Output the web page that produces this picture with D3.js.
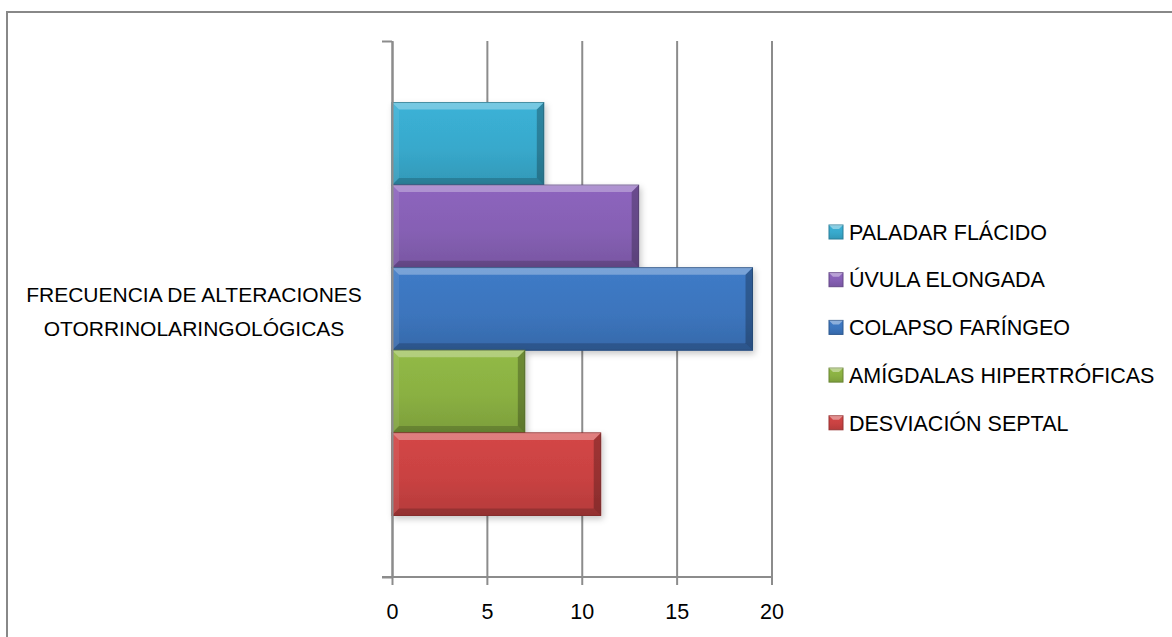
<!DOCTYPE html>
<html>
<head>
<meta charset="utf-8">
<script src="https://cdn.jsdelivr.net/npm/d3@7"></script>
<style>
  body { margin: 0; background: #fff; }
  text { font-family: "Liberation Sans", Arial, sans-serif; fill: #000; }
</style>
</head>
<body>
<script>
const w = 1172;
const h = 637;

// data (top bar first)
const seriesNames = ["PALADAR FLÁCIDO", "ÚVULA ELONGADA", "COLAPSO FARÍNGEO", "AMÍGDALAS HIPERTRÓFICAS", "DESVIACIÓN SEPTAL"];
const seriesValues = [8, 13, 19, 7, 11];
const seriesColors = ["#38a9cc", "#8660b4", "#3c75bd", "#8ab042", "#c94242"];
const categoryLines = ["FRECUENCIA DE ALTERACIONES", "OTORRINOLARINGOLÓGICAS"];
const xTicks = [0, 5, 10, 15, 20];

const plot = { left: 392, right: 771.5, top: 41, bottom: 577 };

const svg = d3.select("body").append("svg")
  .attr("width", w)
  .attr("height", h);

const defs = svg.append("defs");

// chart frame (runs off the right and bottom edges)
svg.append("rect")
  .attr("x", 7).attr("y", 12)
  .attr("width", 1250).attr("height", 700)
  .attr("fill", "#fff")
  .attr("stroke", "#888")
  .attr("stroke-width", 2);

const x = d3.scaleLinear().domain([0, 20]).range([plot.left, plot.right]);
const y = d3.scaleBand()
  .domain(seriesNames)
  .range([plot.top, plot.bottom])
  .paddingInner(0)
  .paddingOuter(0.745);

// gridlines
svg.append("g")
  .attr("transform", `translate(0, ${plot.bottom})`)
  .call(d3.axisBottom(x).tickValues(xTicks).tickSize(-(plot.bottom - plot.top)).tickFormat(""))
  .call(g => g.select(".domain").remove())
  .call(g => g.selectAll("line").attr("stroke", "#8c8c8c").attr("stroke-width", 2));

// shadow + gradients
const shadow = defs.append("filter").attr("id", "shadow")
  .attr("x", "-10%").attr("y", "-10%").attr("width", "130%").attr("height", "130%");
shadow.append("feDropShadow")
  .attr("dx", 2).attr("dy", 3).attr("stdDeviation", 3)
  .attr("flood-color", "#000").attr("flood-opacity", 0.22);

seriesColors.forEach((c, i) => {
  const base = d3.color(c);
  const g = defs.append("linearGradient").attr("id", "grad" + i)
    .attr("x1", 0).attr("y1", 0).attr("x2", 0).attr("y2", 1);
  g.append("stop").attr("offset", "0%").attr("stop-color", base.brighter(0.15));
  g.append("stop").attr("offset", "55%").attr("stop-color", base);
  g.append("stop").attr("offset", "100%").attr("stop-color", base.darker(0.3));
});

// bars with a simple bevel
const bev = 7;
const bars = svg.append("g").selectAll("g")
  .data(seriesNames.map((n, i) => ({ name: n, value: seriesValues[i], i })))
  .join("g");

bars.append("rect")
  .attr("x", x(0))
  .attr("y", d => y(d.name))
  .attr("width", d => x(d.value) - x(0))
  .attr("height", y.bandwidth())
  .attr("fill", d => `url(#grad${d.i})`)
  .attr("stroke", d => d3.color(seriesColors[d.i]).darker(0.9))
  .attr("stroke-width", 1)
  .attr("filter", "url(#shadow)");

const facet = (d, side) => {
  const x0 = x(0), x1 = x(d.value), y0 = y(d.name), y1 = y0 + y.bandwidth();
  if (side === "top") return [[x0, y0], [x1, y0], [x1 - bev, y0 + bev], [x0 + bev, y0 + bev]];
  if (side === "bottom") return [[x0, y1], [x1, y1], [x1 - bev, y1 - bev], [x0 + bev, y1 - bev]];
  if (side === "left") return [[x0, y0], [x0 + bev, y0 + bev], [x0 + bev, y1 - bev], [x0, y1]];
  return [[x1, y0], [x1 - bev, y0 + bev], [x1 - bev, y1 - bev], [x1, y1]];
};
const facetStyle = { top: ["#fff", 0.3], bottom: ["#000", 0.18], left: ["#fff", 0.08], right: ["#000", 0.25] };
Object.keys(facetStyle).forEach(side => {
  bars.append("polygon")
    .attr("points", d => facet(d, side).join(" "))
    .attr("fill", facetStyle[side][0])
    .attr("fill-opacity", facetStyle[side][1]);
});

// x axis
const xAxis = svg.append("g")
  .attr("transform", `translate(0, ${plot.bottom})`)
  .call(d3.axisBottom(x).tickValues(xTicks).tickSize(8).tickSizeOuter(0).tickPadding(19));
xAxis.select(".domain").attr("stroke", "#8c8c8c").attr("stroke-width", 2)
  .attr("d", `M${plot.left - 10},0H${plot.right}`);
xAxis.selectAll("line").attr("stroke", "#8c8c8c").attr("stroke-width", 2);
xAxis.selectAll("text")
  .style("font-family", "'Liberation Sans', Arial, sans-serif")
  .style("font-size", "21.5px")
  .attr("fill", "#000");

// category axis
const yAxisScale = d3.scaleLinear().domain([0, 1]).range([plot.bottom, plot.top]);
const yAxis = svg.append("g")
  .attr("transform", `translate(${plot.left}, 0)`)
  .call(d3.axisLeft(yAxisScale).tickValues([0, 1]).tickSize(10).tickSizeOuter(0).tickFormat(""));
yAxis.selectAll("path, line").attr("stroke", "#8c8c8c").attr("stroke-width", 2);

// category label
svg.append("text")
  .attr("x", 194)
  .attr("text-anchor", "middle")
  .style("font-size", "21px")
  .selectAll("tspan")
  .data(categoryLines)
  .join("tspan")
  .attr("x", 194)
  .attr("y", (d, i) => 302 + i * 34)
  .text(d => d);

// legend
const legend = svg.append("g").selectAll("g")
  .data(seriesNames)
  .join("g")
  .attr("transform", (d, i) => `translate(829, ${232 + i * 47.7})`);

legend.append("rect")
  .attr("x", 0).attr("y", -7)
  .attr("width", 14).attr("height", 14)
  .attr("fill", (d, i) => `url(#grad${i})`)
  .attr("stroke", (d, i) => d3.color(seriesColors[i]).darker(0.8))
  .attr("stroke-width", 1);
legend.append("polygon")
  .attr("points", "0,-7 14,-7 10,-3 4,-3")
  .attr("fill", "#fff").attr("fill-opacity", 0.4);

legend.append("text")
  .attr("x", 20)
  .attr("dy", "0.36em")
  .style("font-size", "21.5px")
  .text(d => d);
</script>
</body>
</html>
